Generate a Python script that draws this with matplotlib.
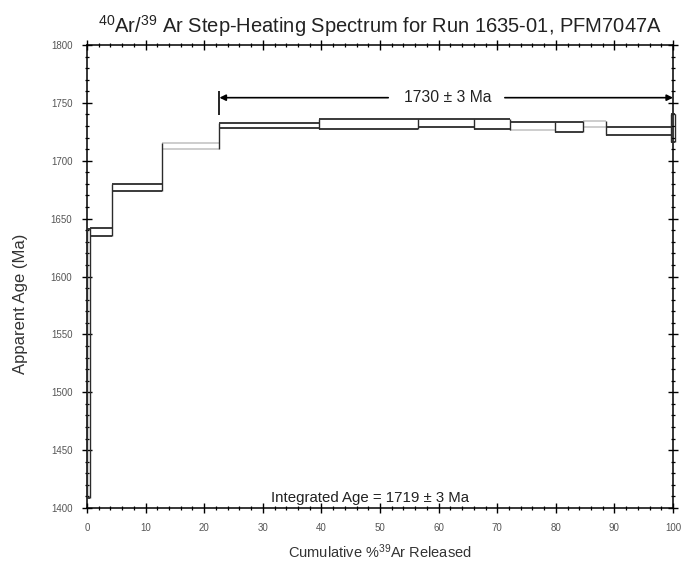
import matplotlib
matplotlib.use('Agg')
import matplotlib.pyplot as plt
from matplotlib.ticker import MultipleLocator

plt.rcParams['font.family'] = ['Liberation Sans', 'DejaVu Sans']
plt.rcParams['mathtext.fontset'] = 'custom'
plt.rcParams['mathtext.rm'] = 'Liberation Sans'

# step boundaries (cumulative % 39Ar released)
edges = [0, 0.5, 4.2, 12.75, 22.6, 39.6, 56.4, 66.1, 72.2, 79.9, 84.7, 88.6, 99.6, 100.3]
# apparent age box of each step, low/high (Ma)
age_lo = [1409, 1635, 1674, 1710, 1728, 1727.5, 1729.5, 1727.5, 1726.5, 1725, 1729, 1722, 1716.5]
age_hi = [1641, 1642, 1680, 1715.5, 1733, 1736.5, 1736, 1736, 1733.5, 1733.5, 1734.5, 1729.5, 1740.5]
# 'k' = plateau step, 'g' = excluded step (top edge, bottom edge)
top_kind = ['k', 'k', 'k', 'g', 'k', 'k', 'k', 'k', 'k', 'k', 'g', 'k', 'k']
bot_kind = ['k', 'k', 'k', 'g', 'k', 'k', 'k', 'k', 'g', 'k', 'g', 'k', 'k']

plateau_start = 22.6
plateau_end = 100
plateau_label = '1730 \u00b1 3 Ma'
integrated_label = 'Integrated Age = 1719 \u00b1 3 Ma'

dark = '#2b2b2b'
light = '#c9c9c9'
col = {'k': dark, 'g': light}

fig = plt.figure(figsize=(6.83, 5.62), dpi=100)
ax = fig.add_axes([0.1274, 0.0961, 0.8580, 0.8238])

n = len(age_lo)
for i in range(n):
    x0, x1 = edges[i], edges[i + 1]
    ax.hlines(age_hi[i], x0, x1, color=col[top_kind[i]], lw=1.3, clip_on=False, zorder=3)
    ax.hlines(age_lo[i], x0, x1, color=col[bot_kind[i]], lw=1.3, clip_on=False, zorder=3)

# vertical sides joining neighbouring steps
for i in range(n + 1):
    if i == 0:
        lo, hi = age_lo[0], age_hi[0]
    elif i == n:
        lo, hi = age_lo[-1], age_hi[-1]
    else:
        lo = min(age_lo[i - 1], age_lo[i])
        hi = max(age_hi[i - 1], age_hi[i])
    ax.vlines(edges[i], lo, hi, color=dark, lw=1.0, clip_on=False, zorder=4)

# plateau marker
y_arrow = 1754.5
ax.vlines(plateau_start, 1739.5, 1760, color='black', lw=1.2)
mid = 61.5
ax.annotate('', xy=(plateau_start, y_arrow), xytext=(51.4, y_arrow),
            arrowprops=dict(arrowstyle='-|>', color='black', lw=1.2,
                            shrinkA=0, shrinkB=0, mutation_scale=9))
ax.annotate('', xy=(plateau_end, y_arrow), xytext=(71.3, y_arrow),
            arrowprops=dict(arrowstyle='-|>', color='black', lw=1.2,
                            shrinkA=0, shrinkB=0, mutation_scale=9))
ax.text(mid, y_arrow, plateau_label, ha='center', va='center', fontsize=11.3, color='#222222')

ax.text(48.3, 1409, integrated_label, ha='center', va='center', fontsize=10.8, color='#222222')

ax.set_xlim(0, 100)
ax.set_ylim(1400, 1800)
ax.xaxis.set_major_locator(MultipleLocator(10))
ax.xaxis.set_minor_locator(MultipleLocator(2))
ax.yaxis.set_major_locator(MultipleLocator(50))
ax.yaxis.set_minor_locator(MultipleLocator(10))
ax.tick_params(which='major', direction='inout', length=7, width=1.0,
               top=True, right=True, labelsize=7, labelcolor='#555555', pad=7)
ax.tick_params(which='minor', direction='inout', length=3.5, width=0.9,
               top=True, right=True)
for s in ax.spines.values():
    s.set_linewidth(1.1)

ax.set_title(r'$\mathregular{^{40}}$Ar/$\mathregular{^{39}}$ Ar Step-Heating Spectrum for Run 1635-01, PFM7047A',
             fontsize=14.5, pad=9, color='#222222')
ax.set_xlabel(r'Cumulative %$\mathregular{^{39}}$Ar Released', fontsize=10.5, color='#333333', labelpad=7)
ax.set_ylabel('Apparent Age (Ma)', fontsize=12, color='#333333')
ax.yaxis.set_label_coords(-0.1, 0.44)

fig.savefig('out.png', dpi=100)
